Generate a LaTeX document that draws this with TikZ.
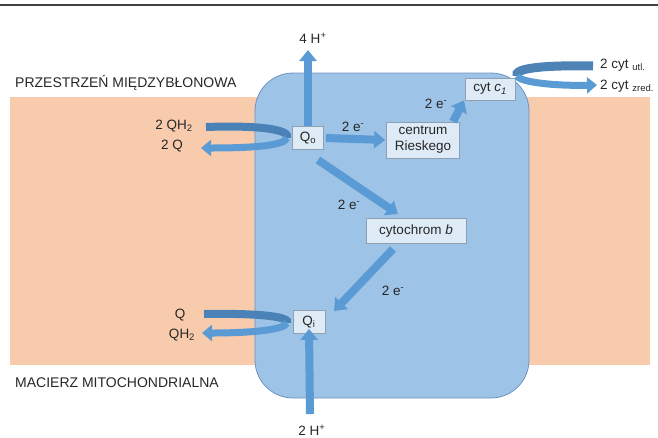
\documentclass[tikz,border=0pt]{standalone}
\usepackage{fontspec}
\setmainfont{Liberation Sans}
\usetikzlibrary{arrows.meta}
\definecolor{peach}{HTML}{F8CBAD}
\definecolor{boxblue}{HTML}{9DC3E6}
\definecolor{boxedge}{HTML}{6F93C2}
\definecolor{arrblue}{HTML}{5B9BD5}
\definecolor{arrdark}{HTML}{4A82B8}
\definecolor{lblfill}{HTML}{DEEBF7}
\definecolor{lbledge}{HTML}{8C9FB3}
\definecolor{txt}{HTML}{262626}
\begin{document}
\begin{tikzpicture}[x=1pt,y=-1pt,
  every node/.style={font=\fontsize{13.5}{16}\selectfont, inner sep=0pt, text=txt},
  region/.style={font=\fontsize{14}{16}\selectfont, anchor=west},
  lbl/.style={draw=lbledge, fill=lblfill, line width=0.8pt, align=center},
  barr/.style={draw=arrblue, line width=8pt, -{Triangle[width=17pt,length=11pt]}},
  ribback/.style={draw=arrdark, line width=8pt},
  ribfront/.style={draw=arrblue, line width=7pt, -{Triangle[width=16pt,length=10pt]}},
  ]
\useasboundingbox (0,0) rectangle (658,437);
\draw[line width=1.6pt, black!75] (0,5) -- (658,5);
\fill[peach] (10,97) rectangle (650,365);
\draw[boxedge, fill=boxblue, line width=0.8pt, rounded corners=38pt] (255,73) rectangle (529,398);

\node[region] (ims) at (15,83) {PRZESTRZEŃ MIĘDZYBŁONOWA};
\node[region] (mat) at (15,383) {MACIERZ MITOCHONDRIALNA};

% boxes
\node[lbl, minimum width=31pt, minimum height=23pt] (qo) at (308,138) {Q\textsubscript{o}};
\node[lbl, minimum width=73pt, minimum height=36pt] (cr) at (423,140) {centrum\\Rieskego};
\node[lbl, minimum width=50pt, minimum height=22pt] (c1) at (490,89) {cyt \textit{c\textsubscript{1}}};
\node[lbl, minimum width=100pt, minimum height=25pt] (cb) at (416,231) {cytochrom \textit{b}};
\node[lbl, minimum width=32pt, minimum height=23pt] (qi) at (309,322) {Q\textsubscript{i}};

% texts
\node (h4) at (313,38) {4 H\textsuperscript{+}};
\node (h2) at (312,430) {2 H\textsuperscript{+}};
\node (e1) at (353,127) {2 e\textsuperscript{-}};
\node (e2) at (436,104) {2 e\textsuperscript{-}};
\node (e3) at (349,205) {2 e\textsuperscript{-}};
\node (e4) at (393,291) {2 e\textsuperscript{-}};
\node (qh2a) at (174,126) {2 QH\textsubscript{2}};
\node (qa) at (172,146) {2 Q};
\node (qq) at (180,315) {Q};
\node (qh2b) at (182,335) {QH\textsubscript{2}};
\node[anchor=west] (cu) at (600,65) {2 cyt \textsubscript{utl.}};
\node[anchor=west] (cz) at (600,86) {2 cyt \textsubscript{zred.}};

% straight arrows
\coordinate (h4tip) at (308,50);
\draw[barr] (qo.north) -- (h4tip);
\draw[barr] ([xshift=2pt]qo.east) -- ([xshift=-1pt]cr.west);
\draw[barr] ([xshift=30pt]cr.north) -- ([xshift=-26pt]c1.south);
\coordinate (d1s) at (318,160);
\coordinate (d1e) at (398,214);
\draw[barr] (d1s) -- (d1e);
\coordinate (d2s) at (393,249);
\coordinate (d2e) at (334,311);
\draw[barr] (d2s) -- (d2e);
\coordinate (h2s) at (310,414);
\draw[barr] (h2s) -- ([yshift=5pt]qi.south);

% curved ribbon arrows
\coordinate (la) at (206,127);
\coordinate (lb) at (287,138);
\coordinate (lc) at (201,148);
\draw[ribback] (la) .. controls (262,125) and (291,130) .. (lb);
\draw[ribfront] (lb) .. controls (284,146) and (250,148) .. (lc);

\coordinate (ma) at (204,314);
\coordinate (mb) at (287,323);
\coordinate (mc) at (202,333);
\draw[ribback] (ma) .. controls (262,313) and (291,317) .. (mb);
\draw[ribfront] (mb) .. controls (284,330) and (250,333) .. (mc);

\coordinate (ra) at (593,66);
\coordinate (rb) at (517,76);
\coordinate (rc) at (597,85);
\draw[ribback, draw=arrblue!85!black, line width=9pt] (ra) .. controls (545,65) and (513,68) .. (rb);
\draw[ribfront] (rb) .. controls (521,83) and (560,86) .. (rc);
\end{tikzpicture}
\end{document}
